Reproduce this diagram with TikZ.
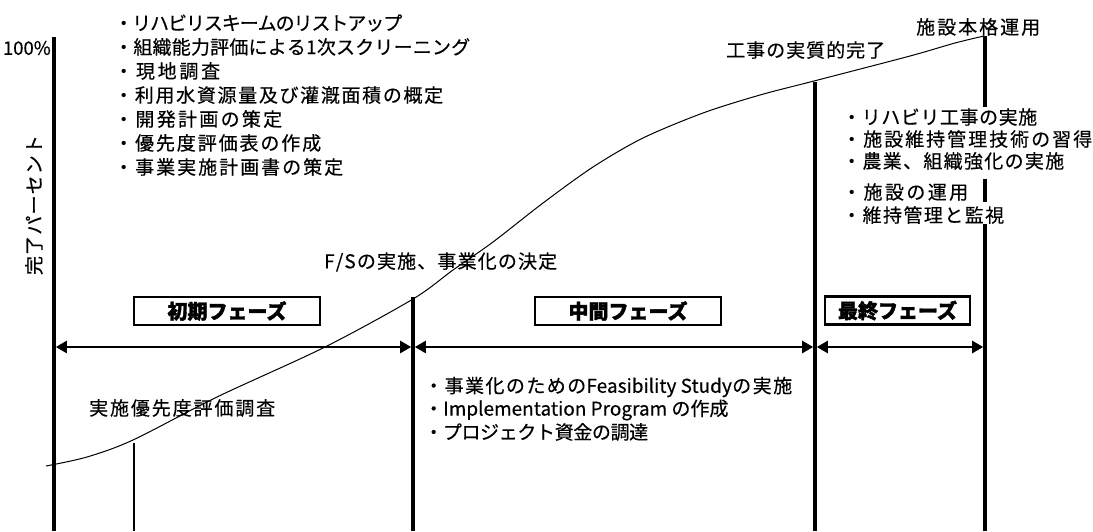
\documentclass[tikz,border=0pt]{standalone}
\usepackage{fontspec}
\setmainfont{Noto Sans CJK JP}[FakeBold=0.4, BoldFeatures={FakeBold=1.6}]
\usetikzlibrary{arrows.meta}
\makeatletter
\newcommand\spr[2]{\hbox to #1{\spr@a#2\spr@end}}
\def\spr@a#1{#1\spr@b}
\def\spr@b#1{\ifx#1\spr@end\else\hss#1\expandafter\spr@b\fi}
\def\spr@end{\relax}
\makeatother
\begin{document}
\begin{tikzpicture}[x=1pt,y=-1pt,
  txt/.style={inner sep=0pt, font=\fontsize{19}{22}\selectfont},
  divider/.style={line width=3.6pt},
  thindivider/.style={line width=2.6pt},
  phasebox/.style={draw, line width=2.6pt, inner sep=0pt, minimum height=28pt,
    font=\fontsize{20}{22}\selectfont\bfseries},
  phasearrow/.style={{Triangle[length=11pt,width=12pt]}-{Triangle[length=11pt,width=12pt]},
    line width=2.4pt, shorten <=1.8pt, shorten >=1.8pt},
  curve/.style={line width=1pt}
]
\useasboundingbox (0,0) rectangle (1093,531);

% divider lines
\coordinate (A0) at (54,37);  \coordinate (A1) at (54,531);
\coordinate (S0) at (134,443); \coordinate (S1) at (134,531);
\coordinate (B0) at (413,297); \coordinate (B1) at (413,531);
\coordinate (C0) at (815,82);  \coordinate (C1) at (815,531);
\coordinate (D0) at (985,36);  \coordinate (D1) at (985,107);
\coordinate (D2) at (985,179); \coordinate (D3) at (985,202);
\coordinate (D4) at (985,224); \coordinate (D5) at (985,531);
\draw[divider] (A0) -- (A1);
\draw[thindivider] (S0) -- (S1);
\draw[divider] (B0) -- (B1);
\draw[divider] (C0) -- (C1);
\draw[divider] (D0) -- (D1);
\draw[divider] (D2) -- (D3);
\draw[divider] (D4) -- (D5);

% phase arrows
\coordinate (PA) at (54,347); \coordinate (PB) at (413,347);
\coordinate (PC) at (815,347); \coordinate (PD) at (985,347);
\draw[phasearrow] (PA) -- (PB);
\draw[phasearrow] (PB) -- (PC);
\draw[phasearrow] (PC) -- (PD);

% phase boxes
\node[phasebox, minimum width=186pt] (ph1) at (227,311) {初期フェーズ};
\node[phasebox, minimum width=186pt] (ph2) at (628,311) {中間フェーズ};
\node[phasebox, minimum width=145pt] (ph3) at (897.5,310.5) {最終フェーズ};

% axis labels
\node[txt, anchor=east, font=\fontsize{18.5}{19}\selectfont] (p100) at (51,48) {100\%};
\node[txt, rotate=90] (ylab) at (34,205) {\spr{140pt}{完了パーセント}};

% early phase list
\node[txt, anchor=west] (L1) at (114,23)  {\spr{288pt}{・リハビリスキームのリストアップ}};
\node[txt, anchor=west] (L2) at (114,47)  {\spr{356pt}{・組織能力評価による1次スクリーニング}};
\node[txt, anchor=west] (L3) at (114,71)  {\spr{106pt}{・現地調査}};
\node[txt, anchor=west] (L4) at (114,95)  {\spr{329pt}{・利用水資源量及び灌漑面積の概定}};
\node[txt, anchor=west] (L5) at (114,119) {\spr{168pt}{・開発計画の策定}};
\node[txt, anchor=west] (L6) at (114,143) {\spr{207pt}{・優先度評価表の作成}};
\node[txt, anchor=west] (L7) at (114,167) {\spr{229pt}{・事業実施計画書の策定}};

% milestones
\node[txt, anchor=west] (m1) at (916,27)  {\spr{124pt}{施設本格運用}};
\node[txt, anchor=west] (m2) at (726,50)  {\spr{159pt}{工事の実質的完了}};
\node[txt, anchor=west] (m3) at (324,262) {\spr{233pt}{F/Sの実施、事業化の決定}};
\node[txt, anchor=west] (m4) at (89,408)  {\spr{186pt}{実施優先度評価調査}};

% middle phase list
\node[txt, anchor=west] (M1) at (424,387)
  {\hbox to 368pt{\spr{162pt}{・事業化のための}\hss Feasibility Study\hss\spr{60pt}{の実施}}};
\node[txt, anchor=west] (M2) at (424,410) {・Implementation Program の作成};
\node[txt, anchor=west] (M3) at (424,432) {\spr{224pt}{・プロジェクト資金の調達}};

% final phase list
\node[txt, anchor=west] (R1) at (842,117) {\spr{195pt}{・リハビリ工事の実施}};
\node[txt, anchor=west] (R2) at (842,139) {\spr{250pt}{・施設維持管理技術の習得}};
\node[txt, anchor=west] (R3) at (842,161) {\spr{222pt}{・農業、組織強化の実施}};
\node[txt, anchor=west] (R4) at (842,192) {\spr{126pt}{・施設の運用}};
\node[txt, anchor=west] (R5) at (842,215) {\spr{162pt}{・維持管理と監視}};

% progress curve
\draw[curve] plot[smooth, tension=0.5] coordinates {
 (46,466) (87,457) (133,440) (217,397) (325,347) (413,299) (453,270)
 (493,242) (543,203) (593,167) (643,138) (703,113) (760,95) (814,81)
 (910,56) (955,43) (984,36)};
\end{tikzpicture}
\end{document}
